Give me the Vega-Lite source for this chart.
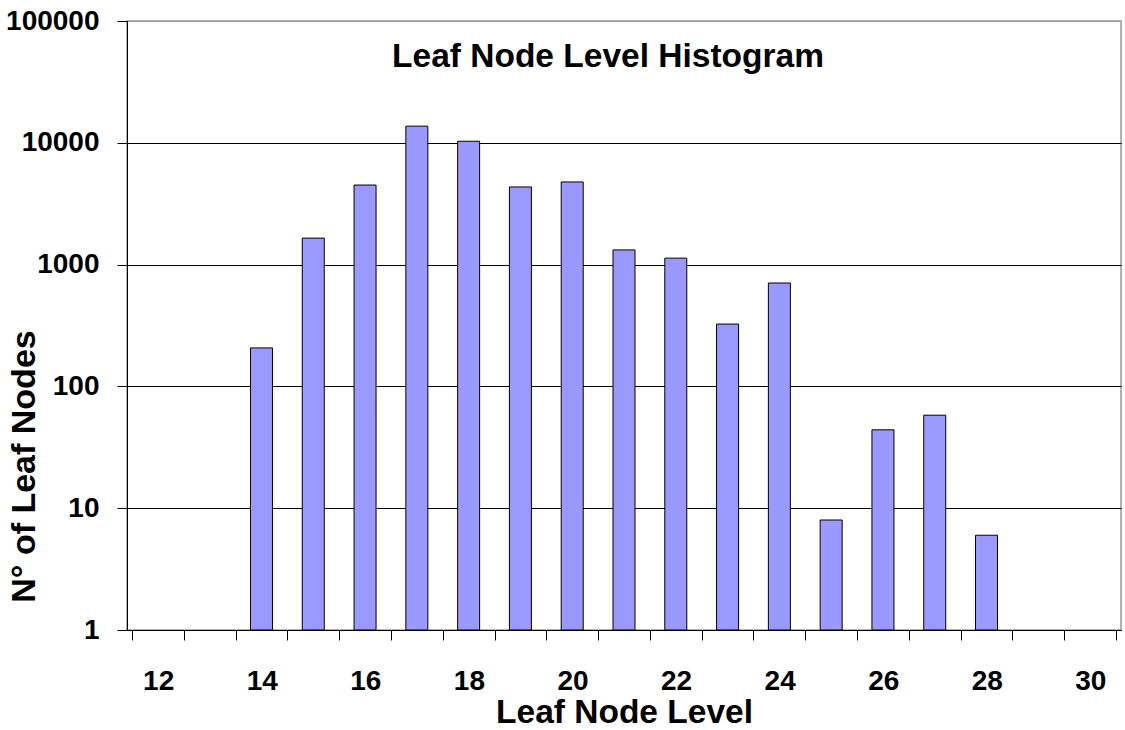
{
  "$schema": "https://vega.github.io/schema/vega-lite/v6.json",
  "width": 994,
  "height": 609,
  "autosize": "none",
  "padding": {"left": 127, "top": 21, "right": 4, "bottom": 100},
  "background": "white",
  "config": {
    "view": {"stroke": "#999999", "strokeWidth": 1.5},
    "font": "Liberation Sans"
  },
  "title": {
    "text": "Leaf Node Level Histogram",
    "orient": "top",
    "anchor": "middle",
    "baseline": "alphabetic",
    "offset": -47,
    "dx": -16,
    "dy": 46,
    "fontSize": 33.5,
    "fontWeight": "bold",
    "font": "Liberation Sans",
    "color": "black"
  },
  "data": {
    "values": [
      {"level": 14, "count": 207},
      {"level": 15, "count": 1650},
      {"level": 16, "count": 4500},
      {"level": 17, "count": 13700},
      {"level": 18, "count": 10300},
      {"level": 19, "count": 4340},
      {"level": 20, "count": 4770},
      {"level": 21, "count": 1320},
      {"level": 22, "count": 1130},
      {"level": 23, "count": 325},
      {"level": 24, "count": 706},
      {"level": 25, "count": 8},
      {"level": 26, "count": 44},
      {"level": 27, "count": 58},
      {"level": 28, "count": 6}
    ]
  },
  "mark": {"type": "bar", "fill": "#9999FF", "stroke": "black", "strokeWidth": 1, "width": 22},
  "encoding": {
    "x": {
      "field": "level",
      "type": "quantitative",
      "scale": {"domain": [11.5, 30.5], "nice": false, "zero": false},
      "axis": {
        "values": [11.5, 12.5, 13.5, 14.5, 15.5, 16.5, 17.5, 18.5, 19.5, 20.5, 21.5, 22.5, 23.5, 24.5, 25.5, 26.5, 27.5, 28.5, 29.5, 30.5],
        "labelExpr": "datum.value % 2 == 1.5 ? format(datum.value + 0.5, 'd') : ''",
        "labelOffset": 26.16,
        "labelOverlap": false,
        "labelFlush": false,
        "labelBound": false,
        "labelFontSize": 28,
        "labelFontWeight": "bold",
        "labelColor": "black",
        "labelBaseline": "alphabetic",
        "labelPadding": 49,
        "tickSize": 10,
        "tickColor": "black",
        "tickWidth": 1,
        "domainColor": "black",
        "domainWidth": 1,
        "grid": false,
        "title": "Leaf Node Level",
        "titleFontSize": 33.5,
        "titleFontWeight": "bold",
        "titleColor": "black",
        "titleBaseline": "alphabetic",
        "titleY": 92
      }
    },
    "y": {
      "field": "count",
      "type": "quantitative",
      "scale": {"type": "log", "domain": [1, 100000], "nice": false},
      "axis": {
        "values": [1, 10, 100, 1000, 10000, 100000],
        "format": "d",
        "labelFontSize": 28,
        "labelFontWeight": "bold",
        "labelColor": "black",
        "labelPadding": 18,
        "tickSize": 10,
        "tickColor": "black",
        "domainColor": "black",
        "grid": true,
        "gridColor": {"condition": {"test": "datum.value >= 100000", "value": "#999999"}, "value": "black"},
        "gridOpacity": 1,
        "gridWidth": 1,
        "title": "N° of Leaf Nodes",
        "titleFontSize": 34,
        "titleFontWeight": "bold",
        "titleColor": "black",
        "titleBaseline": "alphabetic",
        "titleX": -93,
        "titleY": 445
      }
    },
    "y2": {"datum": 1}
  }
}
